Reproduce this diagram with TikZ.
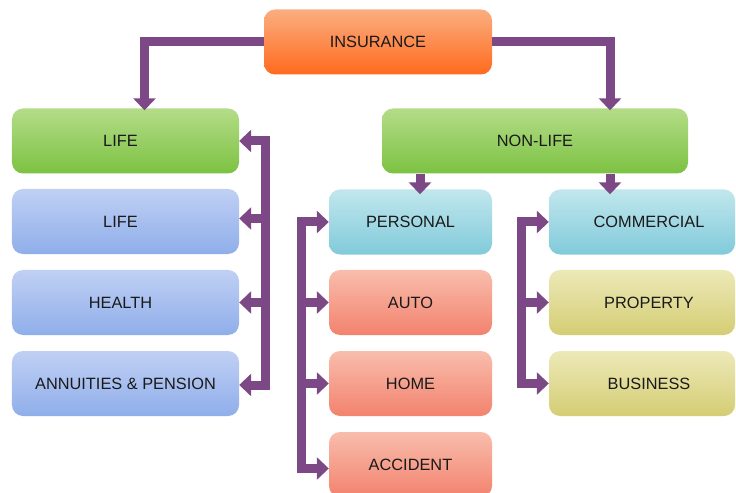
\documentclass[tikz,border=0pt]{standalone}
\usepackage{fontspec}
\setmainfont{Liberation Sans}
\usetikzlibrary{arrows.meta,calc}
\definecolor{purp}{HTML}{7D4886}
\definecolor{orT}{HTML}{FBAE80}\definecolor{orB}{HTML}{FF6A1E}
\definecolor{grT}{HTML}{B4DC88}\definecolor{grB}{HTML}{7CC242}
\definecolor{blT}{HTML}{C0D0F4}\definecolor{blB}{HTML}{8FAEEA}
\definecolor{cyT}{HTML}{C2E7ED}\definecolor{cyB}{HTML}{80CADA}
\definecolor{saT}{HTML}{F9BDAC}\definecolor{saB}{HTML}{F2826E}
\definecolor{olT}{HTML}{EDE9B8}\definecolor{olB}{HTML}{D4CD74}
\definecolor{txt}{HTML}{1A1A1A}
\tikzset{
  box/.style={rounded corners=11bp, minimum height=65bp, inner sep=0pt,
    font=\fontsize{16.4}{19}\selectfont, text=txt},
  orbox/.style={box, top color=orT, bottom color=orB, minimum width=228bp},
  grbox/.style={box, top color=grT, bottom color=grB},
  blbox/.style={box, top color=blT, bottom color=blB, minimum width=227bp},
  cybox/.style={box, top color=cyT, bottom color=cyB},
  sabox/.style={box, top color=saT, bottom color=saB, minimum width=163bp},
  olbox/.style={box, top color=olT, bottom color=olB, minimum width=186bp},
  conn/.style={draw=purp, line width=9bp, -{Triangle[width=22bp,length=12bp]}},
  barline/.style={draw=purp, line width=9bp, line cap=rect},
}
\begin{document}
\begin{tikzpicture}[x=1bp,y=-1bp]
\useasboundingbox (0,0) rectangle (736,493);
\fill[white] (0,0) rectangle (736,493);
\clip (0,0) rectangle (736,493);
% nodes
\node[orbox] (ins) at (378,42) {INSURANCE};
\node[grbox, minimum width=227bp] (life) at (125.5,141) {\hspace*{-10bp}LIFE};
\node[grbox, minimum width=306bp] (nonlife) at (535,141) {NON-LIFE};
\node[blbox] (lifeb) at (125.5,221.5) {\hspace*{-10bp}LIFE};
\node[blbox] (health) at (125.5,302.5) {\hspace*{-10bp}HEALTH};
\node[blbox] (annu) at (125.5,383.5) {ANNUITIES \& PENSION};
\node[cybox, minimum width=163bp] (pers) at (410.5,222) {PERSONAL};
\node[sabox] (auto) at (410.5,302.5) {AUTO};
\node[sabox] (home) at (410.5,383.5) {HOME};
\node[sabox] (acc) at (410.5,464.5) {ACCIDENT};
\node[cybox, minimum width=186bp] (comm) at (642,222) {\hspace*{14bp}COMMERCIAL};
\node[olbox] (prop) at (642,302.5) {\hspace*{14bp}PROPERTY};
\node[olbox] (bus) at (642,383.5) {\hspace*{14bp}BUSINESS};
% top connectors
\coordinate (nlin) at ([xshift=75bp,yshift=-2bp]nonlife.north);
\coordinate (lin) at ([xshift=19bp,yshift=-2bp]life.north);
\draw[conn] (ins.west) -| (lin);
\draw[conn] (ins.east) -| (nlin);
% non-life down
\coordinate (pin) at ([xshift=9.5bp,yshift=-5bp]pers.north);
\coordinate (cin) at ([xshift=-32bp,yshift=-5bp]comm.north);
\draw[conn] (pin |- nonlife.south) -- (pin);
\draw[conn] (cin |- nonlife.south) -- (cin);
% life bar
\coordinate (lbt) at ([xshift=26bp]life.east);
\coordinate (lbb) at ([xshift=26bp,yshift=-1.5bp]annu.east);
\draw[barline] (lbt) -- (lbb);
\draw[conn] (lbt) -- (life.east);
\draw[conn] ([yshift=3bp]lbt |- lifeb.east) -- ([yshift=3bp]lifeb.east);
\draw[conn] (lbt |- health.east) -- (health.east);
\draw[conn] (lbb) -- (lbb -| annu.east);
% personal bar
\coordinate (pbt) at ([xshift=-27bp]pers.west);
\coordinate (pbb) at ([xshift=-27bp,yshift=-4bp]acc.west);
\draw[barline] (pbt) -- (pbb);
\draw[conn] (pbt) -- (pers.west);
\draw[conn] (pbt |- auto.west) -- (auto.west);
\draw[conn] (pbt |- home.west) -- (home.west);
\draw[conn] (pbb) -- (pbb -| acc.west);
% commercial bar
\coordinate (cbt) at ([xshift=-27bp]comm.west);
\coordinate (cbb) at ([xshift=-27bp]bus.west);
\draw[barline] (cbt) -- (cbb);
\draw[conn] (cbt) -- (comm.west);
\draw[conn] (cbt |- prop.west) -- (prop.west);
\draw[conn] (cbb) -- (bus.west);
\end{tikzpicture}
\end{document}
